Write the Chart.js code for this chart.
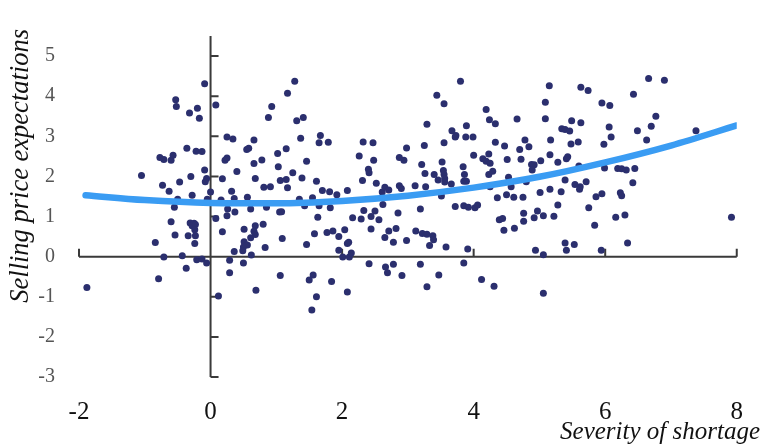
<!DOCTYPE html>
<html>
<head>
<meta charset="utf-8">
<script src="https://cdn.jsdelivr.net/npm/chart.js@4/dist/chart.umd.min.js"></script>
<style>
  html, body { margin: 0; padding: 0; background: #fff; }
  #graph { display: block; }
</style>
</head>
<body>
<canvas id="graph" width="763" height="446"></canvas>
<script>
// Valeurs (x = gravité de la pénurie, y = anticipations de prix)
const severity = [
  -0.53,-0.52,-0.77,-0.71,-0.60,-0.57,-1.05,-0.73,-0.47,-0.63,-0.50,-0.55,-0.60,-0.54,-0.84,-0.71,-0.43,-0.37,-0.79,-1.88,
  -0.09,0.08,-0.32,-0.20,-0.17,-0.36,-0.22,-0.13,0.25,0.34,0.66,0.55,0.58,0.25,0.22,0.93,0.88,1.17,1.28,1.31,
  -0.30,-0.09,-0.06,-0.08,0.18,0.40,0.66,0.78,0.68,1.02,1.15,1.03,1.25,1.06,1.15,0.81,0.91,1.17,-0.28,0.00,
  0.32,0.36,0.56,0.26,0.37,0.25,0.08,0.61,0.85,1.05,1.08,-0.31,-0.25,-0.28,-0.23,-0.24,-0.34,-0.23,-0.24,0.18,
  0.51,0.68,0.80,0.66,0.68,0.61,0.51,0.56,0.50,0.36,0.49,0.62,0.83,1.09,-0.21,-0.13,-0.06,0.29,0.50,0.29,
  1.06,0.69,0.12,0.16,-0.05,
  1.41,1.37,1.67,1.65,1.79,1.46,1.39,1.61,1.70,1.81,1.92,2.08,1.35,1.43,1.55,1.65,1.82,1.63,2.16,2.29,
  2.33,2.44,2.50,2.56,2.44,2.26,2.32,2.47,2.48,2.40,2.41,2.31,2.52,2.61,2.65,2.71,2.87,2.90,2.62,2.85,
  2.82,2.71,2.65,2.78,2.98,2.87,2.94,2.98,1.58,1.77,1.86,1.95,2.04,1.46,2.08,2.10,1.95,2.01,2.11,2.14,
  2.41,2.66,2.69,2.78,2.91,1.50,1.56,1.84,1.61,1.54,2.08,
  3.80,3.44,3.55,3.29,3.25,3.55,3.67,3.73,3.72,3.89,3.88,3.99,4.19,4.24,4.33,4.33,4.47,3.21,3.52,3.26,
  3.40,3.46,3.54,3.55,3.56,3.56,3.66,3.84,3.86,3.85,3.89,4.00,4.14,4.19,4.23,4.25,4.23,4.29,4.51,4.53,
  4.57,4.25,3.11,3.27,3.51,3.19,3.72,3.85,3.92,4.02,4.06,4.36,4.50,4.61,4.39,4.44,4.46,4.62,3.12,3.22,
  3.29,3.38,3.39,3.33,3.58,3.91,3.19,3.85,3.47,3.29,4.12,4.31,
  5.15,5.09,5.63,5.74,5.95,6.07,4.66,5.09,5.49,5.63,5.34,5.39,5.46,6.06,6.09,5.98,4.78,4.70,4.84,5.17,
  5.48,5.59,5.16,5.02,4.72,4.88,4.92,4.89,5.28,5.41,5.43,5.60,5.99,6.19,6.25,4.80,5.39,5.54,5.62,5.61,
  5.71,4.75,5.01,5.16,5.33,5.28,5.75,5.86,5.95,6.23,6.25,4.76,4.97,5.06,4.92,5.22,4.76,5.84,6.16,5.39,
  5.53,5.41,4.94,5.06,5.94,5.06,
  6.66,6.90,6.43,6.77,6.70,6.49,6.63,7.38,6.32,6.45,6.42,6.30,6.34,7.92
];
const expectations = [
  3.91,3.74,2.47,2.42,2.40,2.53,2.02,1.78,1.86,1.63,1.43,1.23,0.87,0.54,0.35,-0.01,0.02,-0.29,-0.55,-0.77,
  4.31,3.78,3.58,3.70,3.45,2.70,2.63,2.62,2.98,2.93,2.91,2.67,2.70,2.46,2.40,3.74,3.47,4.07,4.37,3.39,
  2.00,2.16,1.95,1.87,1.94,2.12,2.32,2.41,1.95,2.57,2.69,2.24,2.09,1.90,1.92,1.73,1.74,1.72,1.53,1.61,
  1.63,1.45,1.48,1.19,1.11,1.02,0.95,1.19,1.23,1.11,1.12,0.84,0.83,0.77,0.80,0.67,0.52,0.52,0.33,0.62,
  0.68,0.77,0.81,0.63,0.55,0.47,0.37,0.29,0.24,0.13,0.15,0.04,0.23,0.45,-0.08,-0.06,-0.16,-0.09,-0.16,-0.40,
  -0.47,-0.84,-0.98,1.41,1.43,
  3.47,2.95,3.02,2.84,2.85,2.38,1.96,1.88,1.65,1.62,1.54,1.65,1.43,1.27,1.47,1.27,1.22,0.98,0.97,0.94,
  1.15,1.00,1.14,0.92,0.69,2.51,2.86,2.84,2.40,2.18,2.09,1.90,1.83,1.61,1.73,1.66,1.77,1.70,1.30,1.09,
  0.70,0.64,0.48,0.36,2.71,2.47,2.40,0.40,0.57,0.60,0.64,0.50,0.67,0.30,0.33,0.36,0.16,-0.01,-0.01,0.09,
  -0.18,-0.26,-0.40,-0.19,-0.47,-0.58,-0.46,-0.62,-1.00,-1.33,-0.88,
  4.37,4.02,3.81,3.30,2.77,2.84,3.14,3.02,2.98,3.26,2.98,2.98,3.67,3.41,3.31,2.85,2.76,2.30,2.36,2.07,
  2.05,1.91,2.15,2.05,1.95,1.86,1.81,2.24,2.05,1.88,1.88,2.53,2.44,2.38,2.56,2.33,2.05,2.13,2.42,1.98,
  1.74,1.74,1.77,1.74,1.51,1.19,1.25,1.27,1.23,1.22,1.29,1.47,1.54,1.48,0.92,0.95,0.66,0.71,0.64,0.58,
  0.56,0.52,0.42,0.28,0.24,0.19,-0.19,-0.16,-0.46,-0.75,-0.57,-0.74,
  4.26,3.85,4.22,4.14,3.83,3.77,3.43,3.44,3.39,3.34,3.19,3.17,3.13,3.23,2.98,2.80,2.91,2.67,2.74,2.91,
  2.81,2.86,2.54,2.39,2.43,2.30,2.29,2.16,2.35,2.44,2.49,2.26,2.21,2.20,2.19,1.87,1.91,1.80,1.74,1.68,
  1.87,1.48,1.60,1.68,1.62,1.29,1.22,1.49,1.57,1.59,1.52,1.08,1.14,1.02,0.97,1.01,0.88,0.78,0.98,0.34,
  0.30,0.16,0.16,0.05,0.16,-0.91,
  4.44,4.40,4.05,3.50,3.25,3.14,2.91,3.14,2.16,2.20,1.84,1.04,0.34,0.98
];

// Courbe d'ajustement
const fitX = [-1.9, -1, 0, 1, 2, 3, 4, 5, 6, 7, 8];
const fitY = [1.53, 1.41, 1.34, 1.33, 1.39, 1.52, 1.72, 1.99, 2.35, 2.77, 3.27];

const xTicks = [-2, 0, 2, 4, 6, 8];
const yTicks = [-3, -2, -1, 0, 1, 2, 3, 4, 5];
const xMarks = [-2, 2, 4, 6, 8];

const xTitle = "Severity of shortage";
const yTitle = "Selling price expectations";

const points = severity.map((x, i) => ({ x: x, y: expectations[i] }));
const fit = fitX.map((x, i) => ({ x: x, y: fitY[i] }));

const serif = "Liberation Serif, Times New Roman, DejaVu Serif, serif";

// Axes qui se croisent en (0,0), avec petits traits de graduation
const axesCroises = {
  id: "axesCroises",
  beforeDatasetsDraw(chart) {
    const ctx = chart.ctx;
    const sx = chart.scales.x;
    const sy = chart.scales.y;
    const x0 = sx.getPixelForValue(0);
    const y0 = sy.getPixelForValue(0);
    ctx.save();
    ctx.strokeStyle = "#3a3a3a";
    ctx.lineWidth = 2;
    ctx.beginPath();
    ctx.moveTo(sx.getPixelForValue(-2), y0);
    ctx.lineTo(sx.getPixelForValue(8), y0);
    ctx.moveTo(x0, sy.getPixelForValue(-3));
    ctx.lineTo(x0, sy.top);
    for (const v of xMarks) {
      const px = sx.getPixelForValue(v);
      ctx.moveTo(px, y0);
      ctx.lineTo(px, y0 - 8);
    }
    for (const v of yTicks) {
      const py = sy.getPixelForValue(v);
      ctx.moveTo(x0, py);
      ctx.lineTo(x0 + 8, py);
    }
    ctx.stroke();
    ctx.restore();
  },
  afterDraw(chart) {
    const ctx = chart.ctx;
    ctx.save();
    ctx.fillStyle = "#111";
    ctx.textAlign = "right";
    ctx.textBaseline = "alphabetic";
    ctx.font = "italic 25px " + serif;
    ctx.fillText(xTitle, 760, 439);
    ctx.translate(28, 29);
    ctx.rotate(-Math.PI / 2);
    ctx.font = "italic 26.5px " + serif;
    ctx.fillText(yTitle, 0, 0);
    ctx.restore();
  }
};

new Chart(document.querySelector("#graph"), {
  type: "scatter",
  data: {
    datasets: [
      {
        type: "line",
        label: "fit",
        data: fit,
        borderColor: "#3a9cf3",
        borderWidth: 6.5,
        borderCapStyle: "round",
        pointRadius: 0,
        cubicInterpolationMode: "monotone",
        fill: false
      },
      {
        label: "obs",
        data: points,
        backgroundColor: "#2b2f6e",
        borderWidth: 0,
        pointRadius: 3.5
      }
    ]
  },
  options: {
    responsive: false,
    animation: false,
    layout: { padding: { left: 0, right: 20, top: 14, bottom: 0 } },
    plugins: { legend: { display: false }, tooltip: { enabled: false } },
    scales: {
      x: {
        type: "linear",
        min: -2,
        max: 8,
        afterFit(scale) { scale.height = 69; },
        afterBuildTicks(scale) { scale.ticks = xTicks.map(v => ({ value: v })); },
        grid: { display: false, drawTicks: false },
        border: { display: false },
        ticks: { padding: 20, color: "#111", font: { family: serif, size: 25 } }
      },
      y: {
        type: "linear",
        min: -3,
        max: 5.5,
        afterFit(scale) { scale.width = 79; },
        afterBuildTicks(scale) { scale.ticks = yTicks.map(v => ({ value: v })); },
        grid: { display: false, drawTicks: false },
        border: { display: false },
        ticks: { padding: 24, color: "#555", font: { family: serif, size: 20 } }
      }
    }
  },
  plugins: [axesCroises]
});
</script>
</body>
</html>
